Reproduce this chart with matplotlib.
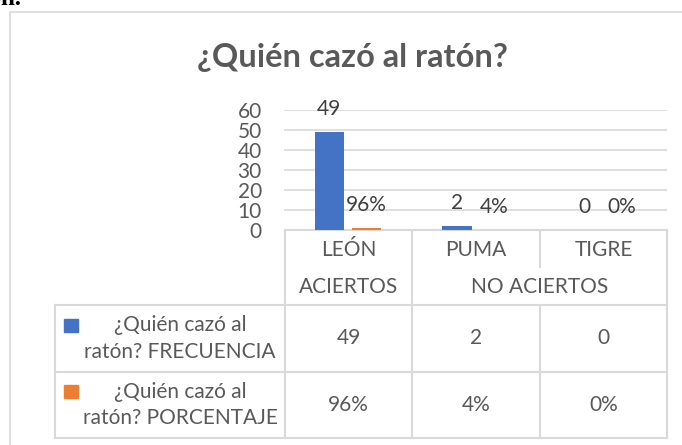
import matplotlib
matplotlib.use("Agg")
import matplotlib.pyplot as plt
import numpy as np

categories = ["LEÓN", "PUMA", "TIGRE"]
groups = ["ACIERTOS", "NO ACIERTOS"]
group_span = [1, 2]
frecuencia = [49, 2, 0]
porcentaje = [0.96, 0.04, 0.0]
series_names = ["¿Quién cazó al\nratón? FRECUENCIA", "¿Quién cazó al\nratón? PORCENTAJE"]
title = "¿Quién cazó al ratón?"
yticks = [0, 10, 20, 30, 40, 50, 60]

BLUE = "#4472C4"
ORANGE = "#ED7D31"
TXT = "#595959"
GRID = "#d9d9d9"
FONT = "Lato"

W, H = 682, 445
fig = plt.figure(figsize=(W / 100, H / 100), dpi=100)
plt.rcParams["font.family"] = [FONT, "DejaVu Sans"]


def px(x0, y0, x1, y1):
    # pixel box (top-left origin) -> figure fraction rect
    return [x0 / W, 1 - y1 / H, (x1 - x0) / W, (y1 - y0) / H]


# layout overlay in pixel coords
lay = fig.add_axes([0, 0, 1, 1])
lay.set_xlim(0, W)
lay.set_ylim(H, 0)
lay.axis("off")

# chart frame
lay.plot([10, 10, W + 5], [H + 5, 12, 12], color=GRID, lw=1.2)
lay.text(0, 5, "n:", family="Liberation Serif", fontsize=18, fontweight="bold",
         color="black", va="baseline", ha="left")

lay.text(352, 57, title, ha="center", va="center", fontsize=23.5,
         fontweight="bold", color=TXT)

# bars
ax = fig.add_axes(px(284, 110, 667, 230))
x = np.arange(len(categories))
w = 0.23
off = 0.145
ax.bar(x - off, frecuencia, w, color=BLUE, zorder=3)
ax.bar(x + off, porcentaje, w, color=ORANGE, zorder=3)
ax.set_xlim(-0.5, len(categories) - 0.5)
ax.set_ylim(0, 60)
ax.set_yticks(yticks)
ax.tick_params(axis="y", length=0, labelsize=15, labelcolor=TXT, pad=16)
ax.tick_params(axis="x", length=0, labelbottom=False)
ax.grid(axis="y", color=GRID, lw=1.2, zorder=0)
for s in ax.spines.values():
    s.set_visible(False)
ax.patch.set_alpha(0)

for xi, v in zip(x, frecuencia):
    ax.annotate(str(v), (xi - off, v), xytext=(0, 16.5), textcoords="offset points",
                ha="center", va="center", fontsize=15, color="#404040")
for xi, v in zip(x, porcentaje):
    ax.annotate(f"{v:.0%}", (xi + off, v), xytext=(0, 16.5), textcoords="offset points",
                ha="center", va="center", fontsize=15, color="#404040")

# data table
cols = [285, 412, 540, 667]
left = 55
r_top, r_mid, r_head, r_1, r_2 = 230, 267, 305, 372, 438
lc = dict(color=GRID, lw=1.5)
lay.plot([cols[0], cols[-1]], [r_top, r_top], **lc)
for c in [cols[0], cols[1], cols[3]]:
    lay.plot([c, c], [r_top, r_2], **lc)
lay.plot([cols[2], cols[2]], [r_top, r_mid], **lc)
lay.plot([cols[2], cols[2]], [r_head, r_2], **lc)
lay.plot([left, left], [r_head, r_2], **lc)
for r in [r_head, r_1, r_2]:
    lay.plot([left, cols[-1]], [r, r], **lc)

centers = [(cols[i] + cols[i + 1]) / 2 for i in range(3)]
for cx, cat in zip(centers, categories):
    lay.text(cx, 250, cat, ha="center", va="center", fontsize=15, color=TXT)
start = 0
for g, span in zip(groups, group_span):
    gx = (cols[start] + cols[start + span]) / 2
    lay.text(gx, 287, g, ha="center", va="center", fontsize=15, color=TXT)
    start += span

rows_y = [(r_head + r_1) / 2, (r_1 + r_2) / 2]
row_vals = [[str(v) for v in frecuencia], [f"{v:.0%}" for v in porcentaje]]
for ry, name, vals, col in zip(rows_y, series_names, row_vals, [BLUE, ORANGE]):
    lay.add_patch(plt.Rectangle((64, ry - 20), 14, 13, color=col))
    lay.text(180, ry, name, ha="center", va="center", fontsize=15, color=TXT,
             linespacing=1.4)
    for cx, v in zip(centers, vals):
        lay.text(cx, ry, v, ha="center", va="center", fontsize=15, color=TXT)

fig.savefig("out.png", dpi=100)
